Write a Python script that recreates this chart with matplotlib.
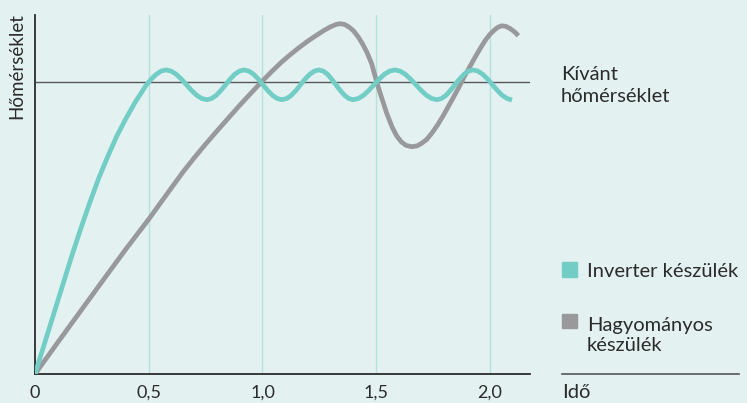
import matplotlib.pyplot as plt
from matplotlib.patches import Rectangle

# Inverter unit: fast rise, then small swings around the set point
inverterX = [0, 0.04, 0.08, 0.12, 0.16, 0.20, 0.24, 0.28, 0.32, 0.36, 0.40, 0.44, 0.49,
             0.511, 0.533, 0.554, 0.576,
             0.5985, 0.621, 0.6435, 0.666, 0.6885, 0.711, 0.7335, 0.756,
             0.776, 0.797, 0.817, 0.838, 0.858, 0.878, 0.899, 0.919,
             0.940, 0.961, 0.982, 1.002, 1.023, 1.044, 1.065, 1.086,
             1.106, 1.127, 1.147, 1.167, 1.187, 1.208, 1.228, 1.248,
             1.267, 1.286, 1.304, 1.323, 1.342, 1.361, 1.379, 1.398,
             1.421, 1.444, 1.467, 1.490, 1.513, 1.536, 1.559, 1.582,
             1.605, 1.628, 1.651, 1.675, 1.698, 1.721, 1.744, 1.767,
             1.787, 1.807, 1.826, 1.846, 1.866, 1.886, 1.905, 1.925,
             1.947, 1.968, 1.990, 2.011, 2.033, 2.054, 2.076, 2.097]
inverterY = [0, 0.10, 0.20, 0.30, 0.40, 0.495, 0.585, 0.67, 0.745, 0.815, 0.875, 0.93, 0.99,
             1.0095, 1.026, 1.037, 1.041,
             1.037, 1.026, 1.0095, 0.99, 0.9705, 0.954, 0.943, 0.939,
             0.943, 0.954, 0.9705, 0.99, 1.0095, 1.026, 1.037, 1.041,
             1.037, 1.026, 1.0095, 0.99, 0.9705, 0.954, 0.943, 0.939,
             0.943, 0.954, 0.9705, 0.99, 1.0095, 1.026, 1.037, 1.041,
             1.037, 1.026, 1.0095, 0.99, 0.9705, 0.954, 0.943, 0.939,
             0.943, 0.954, 0.9705, 0.99, 1.0095, 1.026, 1.037, 1.041,
             1.037, 1.026, 1.0095, 0.99, 0.9705, 0.954, 0.943, 0.939,
             0.943, 0.954, 0.9705, 0.99, 1.0095, 1.026, 1.037, 1.041,
             1.037, 1.026, 1.0095, 0.99, 0.9705, 0.954, 0.943, 0.938]

# Conventional unit: slow rise, big overshoot
convX = [0, 0.1, 0.2, 0.3, 0.4, 0.5, 0.593, 0.652, 0.70, 0.75, 0.80, 0.85, 0.90, 0.95, 0.996,
         1.04, 1.08, 1.12, 1.16, 1.20, 1.238, 1.27, 1.30, 1.325, 1.341, 1.36, 1.38, 1.40, 1.42,
         1.44, 1.46, 1.48, 1.502, 1.52, 1.546, 1.57, 1.59, 1.61, 1.63, 1.656, 1.68, 1.70, 1.722,
         1.745, 1.77, 1.795, 1.82, 1.845, 1.861, 1.885, 1.91, 1.935, 1.96, 1.98, 2.0, 2.02,
         2.035, 2.051, 2.07, 2.09, 2.11, 2.125]
convY = [0, 0.108, 0.215, 0.322, 0.428, 0.53, 0.63, 0.693, 0.74, 0.787, 0.832, 0.876, 0.92, 0.962, 1.0,
         1.035, 1.065, 1.092, 1.117, 1.14, 1.16, 1.176, 1.189, 1.197, 1.199, 1.197, 1.188, 1.175, 1.155,
         1.13, 1.10, 1.062, 1.0, 0.955, 0.893, 0.845, 0.815, 0.795, 0.783, 0.778, 0.781, 0.79, 0.803,
         0.825, 0.853, 0.885, 0.92, 0.955, 0.978, 1.015, 1.05, 1.085, 1.118, 1.143, 1.163, 1.178,
         1.187, 1.192, 1.19, 1.182, 1.17, 1.158]

xTicks = [0, 0.5, 1.0, 1.5, 2.0]
xTickLabels = ["0", "0,5", "1,0", "1,5", "2,0"]
setPoint = 1.0

bg = "#e3f2f0"
teal = "#72cdc6"
grey = "#99989b"
dark = "#2b2b2b"

plt.rcParams['font.family'] = ['Lato', 'DejaVu Sans']

W, H = 747, 403
fig = plt.figure(figsize=(W / 100, H / 100), dpi=100, facecolor=bg)
ax = fig.add_axes([35 / W, 1 - 374 / H, 495 / W, 359 / H])
ax.set_facecolor(bg)

for x in xTicks[1:]:
    ax.axvline(x, color="#b6e0dc", lw=1, zorder=1)
ax.axhline(setPoint, color="#58585a", lw=1, zorder=2)

ax.plot(convX, convY, color=grey, lw=3.4, zorder=3, solid_capstyle='butt', solid_joinstyle='round')
ax.plot(inverterX, inverterY, color=teal, lw=3.4, zorder=4, solid_capstyle='butt', solid_joinstyle='round')

ax.set_xlim(0, 2.176)
ax.set_ylim(0, 1.229)
ax.set_xticks(xTicks)
ax.set_xticklabels(xTickLabels, fontsize=13, color=dark)
ax.set_yticks([])
ax.tick_params(axis='x', length=0, pad=8)
for s in ['top', 'right']:
    ax.spines[s].set_visible(False)
for s in ['left', 'bottom']:
    ax.spines[s].set_color(dark)
    ax.spines[s].set_linewidth(1.3)

def px(x, y):
    return x / W, 1 - y / H

fs = 14.5
fig.text(*px(17, 13), "Hőmérséklet", rotation=90, ha='center', va='top', fontsize=13.5, color=dark)

fig.text(*px(561, 80), "Kívánt", ha='left', va='baseline', fontsize=fs, color=dark)
fig.text(*px(561, 102), "hőmérséklet", ha='left', va='baseline', fontsize=fs, color=dark)

# legend squares and labels
fig.patches.append(Rectangle(px(562, 277), 15 / W, 15 / H, transform=fig.transFigure, color=teal))
fig.patches.append(Rectangle(px(562, 328), 15 / W, 14 / H, transform=fig.transFigure, color=grey))
fig.text(*px(587, 277), "Inverter készülék", ha='left', va='baseline', fontsize=fs, color=dark)
fig.text(*px(587, 331), "Hagyományos", ha='left', va='baseline', fontsize=fs, color=dark)
fig.text(*px(587, 351), "készülék", ha='left', va='baseline', fontsize=fs, color=dark)

fig.add_artist(plt.Line2D([562 / W, 739 / W], [1 - 374 / H] * 2, color="#555555", lw=1.2))
fig.text(*px(562, 398), "Idő", ha='left', va='baseline', fontsize=fs, color=dark)

plt.savefig("out.png", dpi=100, facecolor=bg)
